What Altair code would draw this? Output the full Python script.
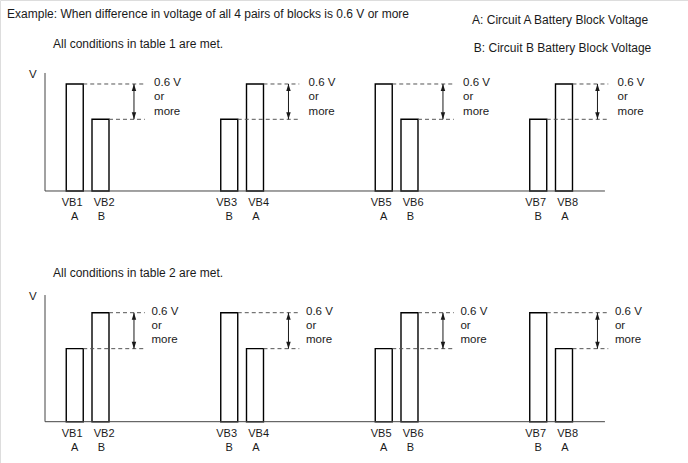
import altair as alt
import pandas as pd

# ---------------- data ----------------
blocks = ["VB1", "VB2", "VB3", "VB4", "VB5", "VB6", "VB7", "VB8"]
circuits = ["A", "B", "B", "A", "A", "B", "B", "A"]
# relative block voltage (schematic): high vs low, difference 0.6 V or more
volt_table1 = [1.0, 0.67, 0.67, 1.0, 1.0, 0.67, 0.67, 1.0]
volt_table2 = [0.67, 1.0, 1.0, 0.67, 0.67, 1.0, 1.0, 0.67]
diff_label = ["0.6 V", "or", "more"]
title_text = "Example: When difference in voltage of all 4 pairs of blocks is 0.6 V or more"
panel_titles = ["All conditions in table 1 are met.", "All conditions in table 2 are met."]
legend_text = ["A: Circuit A Battery Block Voltage", "B: Circuit B Battery Block Voltage"]

# ---------------- layout (not data) ----------------
W, H = 688, 463
XDOM = [-1.903, 24.816]
PANEL_YDOM = [[-2.542, 1.785], [-0.379, 3.869]]
AXIS_TOP = [1.103, 1.162]
AXIS_X = [-0.155, 21.59]
HALF = 0.33
FONT = "Liberation Sans"
INK = "#1a1a1a"
DASH = "#555555"

def slot(i):
    return 1 + 6 * (i // 2) + (i % 2)

def xenc(field):
    return alt.X(field, type="quantitative", scale=alt.Scale(domain=XDOM, nice=False, zero=False), axis=None)

def yenc(field, p):
    return alt.Y(field, type="quantitative", scale=alt.Scale(domain=PANEL_YDOM[p], nice=False, zero=False), axis=None)

layers = []
for p, volts in enumerate([volt_table1, volt_table2]):
    bars = pd.DataFrame({
        "block": blocks, "circuit": circuits, "v": volts,
        "x": [slot(i) for i in range(8)],
    })
    bars["x0"] = bars["x"] - HALF
    bars["x1"] = bars["x"] + HALF
    bars["xl"] = bars["x"] + [(-0.1 if i % 2 == 0 else 0.14) for i in range(8)]
    bars["xc"] = bars["x"] + [(0.0 if i % 2 == 0 else 0.04) for i in range(8)]
    bars["zero"] = 0.0
    bars["pair_end"] = [slot(i - i % 2 + 1) + 1.72 for i in range(8)]

    pairs = pd.DataFrame({
        "hi": [max(volts[2 * k], volts[2 * k + 1]) for k in range(4)],
        "lo": [min(volts[2 * k], volts[2 * k + 1]) for k in range(4)],
        "xa": [slot(2 * k + 1) + 1.3 for k in range(4)],
        "xt": [slot(2 * k + 1) + (2.08 if p == 0 else 1.98) for k in range(4)],
    })
    pairs["label"] = [diff_label] * 4

    base_b = alt.Chart(bars)
    base_p = alt.Chart(pairs)

    # bars
    layers.append(base_b.mark_rect(fill="white", stroke="#000000", strokeWidth=1.4).encode(
        x=xenc("x0"), x2="x1", y=yenc("v", p), y2="zero"))
    # dashed level lines
    layers.append(base_b.mark_rule(color=DASH, strokeDash=[4, 3], strokeWidth=1).encode(
        x=xenc("x1"), x2="pair_end", y=yenc("v", p)))
    # arrow shaft
    layers.append(base_p.mark_rule(color=INK, strokeWidth=1).encode(
        x=xenc("xa"), y=yenc("hi", p), y2="lo"))
    # arrow heads
    layers.append(base_p.mark_point(shape="M0,0L-0.32,1L0.32,1Z", filled=True, size=196, color=INK, opacity=1).encode(
        x=xenc("xa"), y=yenc("hi", p)))
    layers.append(base_p.mark_point(shape="M0,0L-0.32,-1L0.32,-1Z", filled=True, size=196, color=INK, opacity=1).encode(
        x=xenc("xa"), y=yenc("lo", p)))
    # annotation text
    layers.append(base_p.mark_text(align="left", baseline="top", dy=-7, lineHeight=14.3,
                                   font=FONT, fontSize=11.5, color=INK).encode(
        x=xenc("xt"), y=yenc("hi", p), text="label"))
    # bar labels
    layers.append(base_b.mark_text(align="center", baseline="middle", dy=12, font=FONT, fontSize=11, color=INK).encode(
        x=xenc("xl"), y=yenc("zero", p), text="block"))
    layers.append(base_b.mark_text(align="center", baseline="middle", dy=26.5, font=FONT, fontSize=11, color=INK).encode(
        x=xenc("xc"), y=yenc("zero", p), text="circuit"))
    # axes
    ax = pd.DataFrame({"x0": [AXIS_X[0]], "x1": [AXIS_X[1]], "y0": [0.0], "y1": [AXIS_TOP[p]]})
    layers.append(alt.Chart(ax).mark_rule(color="#444444", strokeWidth=1).encode(
        x=xenc("x0"), y=yenc("y0", p), y2="y1"))
    layers.append(alt.Chart(ax).mark_rule(color="#444444", strokeWidth=1).encode(
        x=xenc("x0"), x2="x1", y=yenc("y0", p)))
    vlab = pd.DataFrame({"x": [AXIS_X[0] - 0.47], "y": [AXIS_TOP[p] - 0.02], "t": ["V"]})
    layers.append(alt.Chart(vlab).mark_text(align="center", baseline="middle", font=FONT, fontSize=11.5, color=INK).encode(
        x=xenc("x"), y=yenc("y", p), text="t"))
    pt = pd.DataFrame({"x": [0.155], "y": [AXIS_TOP[p] + 0.27 if p == 0 else AXIS_TOP[p] + 0.205], "t": [panel_titles[p]]})
    layers.append(alt.Chart(pt).mark_text(align="left", baseline="middle", font=FONT, fontSize=12, color=INK).encode(
        x=xenc("x"), y=yenc("y", p), text="t"))

# global header texts (placed through top panel scales)
hdr = pd.DataFrame({
    "x": [-1.63, 16.43, 16.5],
    "y": [1.654, 1.598, 1.334],
    "t": [title_text] + legend_text,
})
layers.append(alt.Chart(hdr).mark_text(align="left", baseline="middle", font=FONT, fontSize=12, color=INK).encode(
    x=xenc("x"), y=yenc("y", 0), text="t"))

chart = alt.layer(*layers).resolve_scale(y="independent").properties(
    width=W, height=H, autosize=alt.AutoSizeParams(type="none"), padding=0
).configure_view(stroke=None).configure(background="white")

chart.save("out.html", embed_options={"renderer": "svg", "actions": False})
